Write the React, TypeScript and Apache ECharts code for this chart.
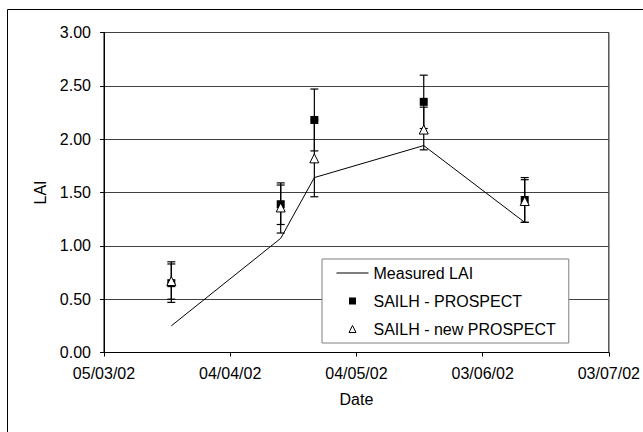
import React, { useEffect, useRef } from "react";
import * as echarts from "echarts";

// ---- data ----
const startDate = "2002-03-05";
const xTickLabels = ["05/03/02", "04/04/02", "04/05/02", "03/06/02", "03/07/02"];
const xTickStepDays = 30;

const measuredDates = ["2002-03-21", "2002-04-16", "2002-04-24", "2002-05-20", "2002-06-13"];
const measuredLAI = [0.25, 1.07, 1.64, 1.94, 1.22];

const sampleDates = ["2002-03-21", "2002-04-16", "2002-04-24", "2002-05-20", "2002-06-13"];
const prospectLAI = [0.65, 1.39, 2.18, 2.35, 1.43];
const prospectLow = [0.47, 1.2, 1.89, 2.1, 1.22];
const prospectHigh = [0.85, 1.59, 2.47, 2.6, 1.64];
const newProspectLAI = [0.67, 1.36, 1.82, 2.09, 1.42];
const newProspectLow = [0.5, 1.12, 1.46, 1.9, 1.22];
const newProspectHigh = [0.83, 1.57, 2.18, 2.3, 1.62];

const FONT = "'Liberation Sans', Arial, sans-serif";

// legend icon shapes (box 32 x 8, extremes fixed by moveTo points)
const ICON_LINE = "path://M0,0 M32,8 M0,3.55 L32,3.55 L32,4.45 L0,4.45 Z";
const ICON_SQUARE = "path://M0,0 M32,8 M12.5,0.5 L19.5,0.5 L19.5,7.5 L12.5,7.5 Z";
const ICON_TRIANGLE = "path://M0,0 M32,8 M16,0.5 L19.5,7.5 L12.5,7.5 Z";

function dayOffset(d: string): number {
  return Math.round((Date.parse(d) - Date.parse(startDate)) / 86400000);
}

function errorRender(params: any, api: any) {
  const x = api.value(0);
  const lo = api.coord([x, api.value(1)]);
  const hi = api.coord([x, api.value(2)]);
  const w = 4;
  const st = { stroke: "#000", lineWidth: 1.2 };
  return {
    type: "group",
    children: [
      { type: "line", shape: { x1: lo[0], y1: lo[1], x2: hi[0], y2: hi[1] }, style: st },
      { type: "line", shape: { x1: lo[0] - w, y1: lo[1], x2: lo[0] + w, y2: lo[1] }, style: st },
      { type: "line", shape: { x1: hi[0] - w, y1: hi[1], x2: hi[0] + w, y2: hi[1] }, style: st },
    ],
  };
}

export default function App() {
  const ref = useRef<HTMLDivElement>(null);
  useEffect(() => {
    document.body.style.margin = "0";
    if (!ref.current) return;
    const chart = echarts.init(ref.current, undefined, { renderer: "svg" });
    const measured = measuredDates.map((d, i) => [dayOffset(d), measuredLAI[i]]);
    const prospect = sampleDates.map((d, i) => [dayOffset(d), prospectLAI[i]]);
    const newProspect = sampleDates.map((d, i) => [dayOffset(d), newProspectLAI[i]]);
    const prospectErr = sampleDates.map((d, i) => [dayOffset(d), prospectLow[i], prospectHigh[i]]);
    const newProspectErr = sampleDates.map((d, i) => [dayOffset(d), newProspectLow[i], newProspectHigh[i]]);

    chart.setOption({
      animation: false,
      backgroundColor: "#fff",
      textStyle: { fontFamily: FONT, color: "#000" },
      graphic: [
        {
          type: "rect",
          shape: { x: 7.5, y: 9.5, width: 700, height: 500 },
          style: { fill: "none", stroke: "#000", lineWidth: 1 },
          silent: true,
        },
      ],
      grid: {
        left: 104,
        right: 33,
        top: 32.5,
        bottom: 79.5,
        show: true,
        borderColor: "#000",
        borderWidth: 1,
        backgroundColor: "transparent",
      },
      xAxis: {
        type: "value",
        min: 0,
        max: xTickStepDays * (xTickLabels.length - 1),
        interval: xTickStepDays,
        name: "Date",
        nameLocation: "middle",
        nameGap: 39,
        nameTextStyle: { fontSize: 16, color: "#000", fontFamily: FONT },
        axisLine: { show: true, lineStyle: { color: "#000", width: 1 } },
        axisTick: { show: true, length: 4, lineStyle: { color: "#000" } },
        axisLabel: {
          fontSize: 16,
          color: "#000",
          fontFamily: FONT,
          margin: 13,
          formatter: (v: number) => xTickLabels[Math.round(v / xTickStepDays)] ?? "",
        },
        splitLine: { show: false },
      },
      yAxis: {
        type: "value",
        min: 0,
        max: 3,
        interval: 0.5,
        name: "LAI",
        nameLocation: "middle",
        nameGap: 56,
        nameRotate: 90,
        nameTextStyle: { fontSize: 16, color: "#000", fontFamily: FONT },
        axisLine: { show: true, lineStyle: { color: "#000", width: 1 } },
        axisTick: { show: true, length: 4, lineStyle: { color: "#000" } },
        axisLabel: {
          fontSize: 16,
          color: "#000",
          fontFamily: FONT,
          margin: 13,
          formatter: (v: number) => v.toFixed(2),
        },
        splitLine: { show: true, lineStyle: { color: "#404040", width: 1 } },
      },
      legend: {
        orient: "vertical",
        left: 322,
        top: 259,
        padding: [6, 13, 6, 14],
        itemGap: 12,
        itemWidth: 32,
        itemHeight: 8,
        backgroundColor: "#fff",
        borderColor: "#808080",
        borderWidth: 1,
        textStyle: { fontSize: 16, color: "#000", fontFamily: FONT },
        data: [
          {
            name: "Measured LAI",
            icon: ICON_LINE,
            itemStyle: { color: "#000", borderWidth: 0, opacity: 1 },
          },
          {
            name: "SAILH - PROSPECT",
            icon: ICON_SQUARE,
            itemStyle: { color: "#000", borderColor: "#000", borderWidth: 0, opacity: 1 },
          },
          {
            name: "SAILH - new PROSPECT",
            icon: ICON_TRIANGLE,
            itemStyle: { color: "#fff", borderColor: "#000", borderWidth: 1, opacity: 1 },
          },
        ],
      },
      series: [
        {
          name: "Measured LAI",
          type: "line",
          data: measured,
          symbol: "none",
          lineStyle: { color: "#000", width: 1 },
          itemStyle: { color: "#000" },
          z: 2,
        },
        {
          name: "err-prospect",
          type: "custom",
          data: prospectErr,
          renderItem: errorRender,
          encode: { x: 0, y: [1, 2] },
          z: 3,
          silent: true,
        },
        {
          name: "err-new-prospect",
          type: "custom",
          data: newProspectErr,
          renderItem: errorRender,
          encode: { x: 0, y: [1, 2] },
          z: 3,
          silent: true,
        },
        {
          name: "SAILH - PROSPECT",
          type: "scatter",
          data: prospect,
          symbol: "rect",
          symbolSize: 8,
          itemStyle: { color: "#000", opacity: 1 },
          z: 4,
        },
        {
          name: "SAILH - new PROSPECT",
          type: "scatter",
          data: newProspect,
          symbol: "triangle",
          symbolSize: 9,
          itemStyle: { color: "#fff", borderColor: "#000", borderWidth: 1, opacity: 1 },
          z: 5,
        },
      ],
    });
    return () => chart.dispose();
  }, []);
  return (
    <div
      ref={ref}
      style={{ position: "absolute", left: 0, top: 0, width: 643, height: 432 }}
    />
  );
}
